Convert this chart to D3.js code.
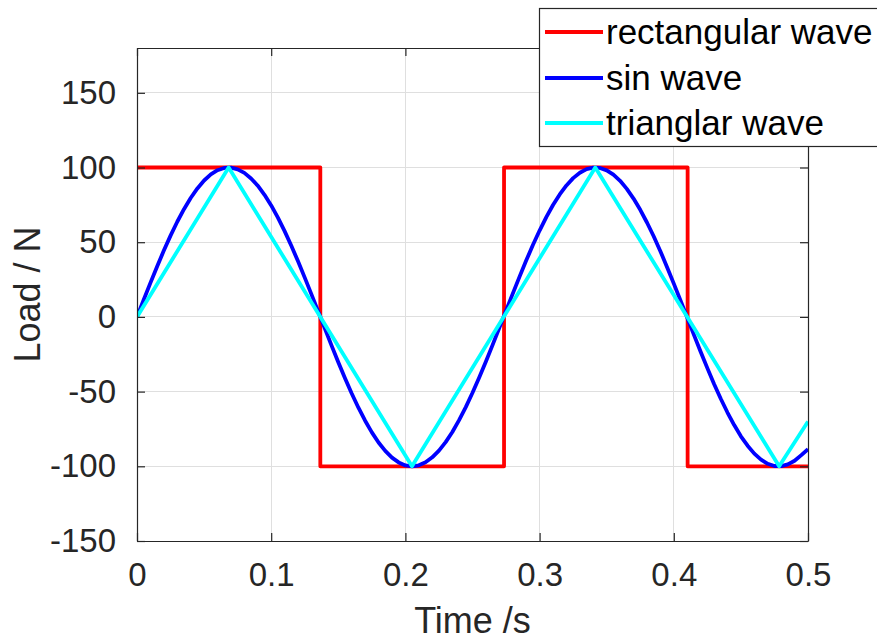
<!DOCTYPE html>
<html>
<head>
<meta charset="utf-8">
<script src="https://cdn.jsdelivr.net/npm/d3@7"></script>
<style>
  html, body { margin: 0; padding: 0; background: #ffffff; }
  svg { display: block; font-family: "Liberation Sans", Arial, Helvetica, sans-serif; }
</style>
</head>
<body>
<svg id="chart" width="877" height="643"></svg>
<script>
// ---- data ----
const xTicks = [0, 0.1, 0.2, 0.3, 0.4, 0.5];
const yTicks = [-150, -100, -50, 0, 50, 100, 150];
const seriesNames = ["rectangular wave", "sin wave", "trianglar wave"];
const seriesColors = ["#ff0000", "#0000ff", "#00ffff"];

// rectangular wave (vertices)
const rectT = [0, 0.1366, 0.1366, 0.2735, 0.2735, 0.4103, 0.4103, 0.5];
const rectV = [100, 100, -100, -100, 100, 100, -100, -100];

// sin wave, sampled every 0.005 s
const sinT = [0,0.005,0.01,0.015,0.02,0.025,0.03,0.035,0.04,0.045,0.05,0.055,0.06,0.065,0.07,0.075,0.08,0.085,0.09,0.095,
  0.1,0.105,0.11,0.115,0.12,0.125,0.13,0.135,0.14,0.145,0.15,0.155,0.16,0.165,0.17,0.175,0.18,0.185,0.19,0.195,
  0.2,0.205,0.21,0.215,0.22,0.225,0.23,0.235,0.24,0.245,0.25,0.255,0.26,0.265,0.27,0.275,0.28,0.285,0.29,0.295,
  0.3,0.305,0.31,0.315,0.32,0.325,0.33,0.335,0.34,0.345,0.35,0.355,0.36,0.365,0.37,0.375,0.38,0.385,0.39,0.395,
  0.4,0.405,0.41,0.415,0.42,0.425,0.43,0.435,0.44,0.445,0.45,0.455,0.46,0.465,0.47,0.475,0.48,0.485,0.49,0.495,0.5];
const sinV = [0,11.5,22.8,33.8,44.4,54.4,63.7,72.1,79.6,86.0,91.3,95.4,98.2,99.7,99.9,98.8,96.4,92.7,87.8,81.7,
  74.6,66.4,57.4,47.6,37.2,26.3,15.1,3.7,-7.8,-19.2,-30.4,-41.1,-51.3,-60.8,-69.5,-77.3,-84.1,-89.7,-94.2,-97.4,
  -99.4,-100.0,-99.3,-97.3,-94.0,-89.5,-83.8,-77.0,-69.1,-60.4,-50.8,-40.6,-29.9,-18.7,-7.3,4.2,15.6,26.8,37.7,48.1,
  57.8,66.8,74.9,82.0,88.0,92.9,96.5,98.9,99.9,99.7,98.1,95.2,91.1,85.7,79.2,71.7,63.2,54.0,44.0,33.3,
  22.3,11.0,-0.5,-12.0,-23.3,-34.3,-44.9,-54.8,-64.0,-72.4,-79.9,-86.2,-91.5,-95.5,-98.3,-99.8,-99.9,-98.7,-96.3,-92.5,-88.5];

// triangular wave (vertices)
const triT = [0, 0.0683, 0.2049, 0.3415, 0.4785, 0.5];
const triV = [0, 100, -100, 100, -100, -70];

// ---- layout ----
const svg = d3.select("#chart");
const mLeft = 137, mRight = 808, mTop = 48, mBottom = 541;
const x = d3.scaleLinear().domain([0, 0.5]).range([mLeft, mRight]);
const y = d3.scaleLinear().domain([-150, 180]).range([mBottom, mTop]);
const axisColor = "#262626";
const lw = 3.8;

// grid
svg.append("g").selectAll("line").data(xTicks).join("line")
  .attr("x1", d => x(d)).attr("x2", d => x(d)).attr("y1", mTop).attr("y2", mBottom)
  .attr("stroke", "#dfdfdf").attr("stroke-width", 1).attr("shape-rendering", "crispEdges");
svg.append("g").selectAll("line").data(yTicks).join("line")
  .attr("x1", mLeft).attr("x2", mRight).attr("y1", d => y(d)).attr("y2", d => y(d))
  .attr("stroke", "#dfdfdf").attr("stroke-width", 1).attr("shape-rendering", "crispEdges");

// axes
const fmtX = d => d === 0 ? "0" : d.toFixed(1);
const fmtY = d => String(d);
const xAxis = d3.axisBottom(x).tickValues(xTicks).tickFormat(fmtX).tickSizeInner(-8).tickSizeOuter(0).tickPadding(22);
const yAxis = d3.axisLeft(y).tickValues(yTicks).tickFormat(fmtY).tickSizeInner(-8).tickSizeOuter(0).tickPadding(21);
const xTopAxis = d3.axisTop(x).tickValues(xTicks).tickFormat("").tickSizeInner(-8).tickSizeOuter(0);
const yRightAxis = d3.axisRight(y).tickValues(yTicks).tickFormat("").tickSizeInner(-8).tickSizeOuter(0);

function styleAxis(g, fs) {
  g.selectAll("path").attr("stroke", axisColor).attr("stroke-width", 1.2);
  g.selectAll("line").attr("stroke", axisColor).attr("stroke-width", 1.2);
  g.selectAll("text").attr("fill", axisColor).style("font-size", fs + "px")
    .style("font-family", "'Liberation Sans', Arial, sans-serif");
}

// lines
const lineGen = d3.line().x(d => x(d[0])).y(d => y(d[1]));
const rectData = rectT.map((t, i) => [t, rectV[i]]);
const sinData = sinT.map((t, i) => [t, sinV[i]]);
const triData = triT.map((t, i) => [t, triV[i]]);
const allSeries = [rectData, sinData, triData];

svg.append("defs").append("clipPath").attr("id", "clip")
  .append("rect").attr("x", mLeft).attr("y", mTop).attr("width", mRight - mLeft).attr("height", mBottom - mTop);

const plotG = svg.append("g").attr("clip-path", "url(#clip)");
allSeries.forEach((s, i) => {
  plotG.append("path").datum(s).attr("d", lineGen)
    .attr("fill", "none").attr("stroke", seriesColors[i]).attr("stroke-width", lw)
    .attr("stroke-linejoin", "round");
});

const gx = svg.append("g").attr("transform", `translate(0,${mBottom})`).call(xAxis);
styleAxis(gx, 33);
gx.selectAll("text").attr("dy", "0.71em");
const gy = svg.append("g").attr("transform", `translate(${mLeft},0)`).call(yAxis);
styleAxis(gy, 33);
const gxt = svg.append("g").attr("transform", `translate(0,${mTop})`).call(xTopAxis);
styleAxis(gxt, 33);
const gyr = svg.append("g").attr("transform", `translate(${mRight},0)`).call(yRightAxis);
styleAxis(gyr, 33);

// axis labels
svg.append("text").attr("x", (mLeft + mRight) / 2).attr("y", 633)
  .attr("text-anchor", "middle").attr("fill", axisColor)
  .style("font-size", "36px").text("Time /s");
svg.append("text").attr("transform", `translate(40,${(mTop + mBottom) / 2}) rotate(-90)`)
  .attr("text-anchor", "middle").attr("fill", axisColor)
  .style("font-size", "36px").text("Load / N");

// legend
const leg = svg.append("g");
leg.append("rect").attr("x", 539.5).attr("y", 8.5).attr("width", 345).attr("height", 138)
  .attr("fill", "#ffffff").attr("stroke", axisColor).attr("stroke-width", 1.2);
const rowY = [32, 78, 123];
seriesNames.forEach((name, i) => {
  leg.append("line").attr("x1", 545).attr("x2", 603).attr("y1", rowY[i]).attr("y2", rowY[i])
    .attr("stroke", seriesColors[i]).attr("stroke-width", lw);
  leg.append("text").attr("x", 606).attr("y", rowY[i]).attr("dy", "0.35em")
    .attr("fill", "#000000").style("font-size", "35px").text(name);
});
</script>
</body>
</html>
